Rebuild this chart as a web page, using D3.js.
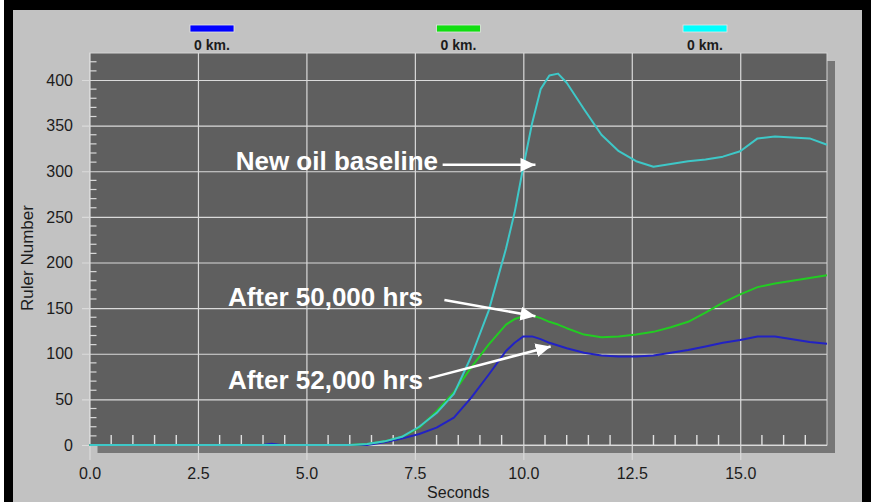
<!DOCTYPE html>
<html lang="en">
<head>
  <meta charset="UTF-8">
  <title>Ruler Number vs Seconds</title>
  <script src="https://d3js.org/d3.v7.min.js"></script>
  <style>
    body {
      margin: 0;
      background: #ffffff;
    }
    svg text {
      font-family: Arial, "Liberation Sans", sans-serif;
    }
  </style>
</head>
<body>
  <div id="chart"></div>

  <script>
    // values
    const seconds = [0, 2, 4, 4.2, 4.4, 6, 6.4, 6.8, 7.2, 7.6, 8.0, 8.4, 8.8, 9.2, 9.6, 9.8,
      10.0, 10.2, 10.4, 10.6, 10.8, 11.0, 11.4, 11.8, 12.2, 12.6, 13.0, 13.4, 13.8,
      14.2, 14.6, 15.0, 15.4, 15.8, 16.2, 16.6, 17.0];
    const after52000 = [0, 0, 0, 1.5, 0, 0, 0, 3, 7, 12, 19, 30, 52, 77, 103, 112,
      119, 119, 116, 112, 109, 106, 101, 98, 97, 97, 98, 101, 104,
      108, 112, 115, 119, 119, 116, 113, 111];
    const after50000 = [0, 0, 0, 0, 0, 0, 1, 4, 9, 19, 37, 58, 85, 110, 132, 138,
      141, 142, 139, 135, 132, 128, 121, 118, 119, 121, 124, 129, 135,
      145, 156, 165, 173, 177, 180, 183, 186];
    const newOil = [0, 0, 0, 0, 0, 0, 1, 4, 9, 20, 35, 56, 97, 147, 215, 255,
      305, 352, 390, 405, 407, 397, 368, 340, 322, 311, 305, 308, 311,
      313, 316, 322, 336, 338, 337, 336, 329];

    const legendLabels = ["0 km.", "0 km.", "0 km."];
    const legendColors = ["#0000ff", "#11dd11", "#00ffff"];
    const lineColors = ["#2222c4", "#22cc22", "#3ec8c8"];

    const xTicks = [0, 2.5, 5, 7.5, 10, 12.5, 15];
    const yTicks = [0, 50, 100, 150, 200, 250, 300, 350, 400];

    const annoText = ["New oil baseline", "After 50,000 hrs", "After 52,000 hrs"];
    const annoPos = [[3.37, 301], [3.19, 152], [3.19, 61]];
    const arrowFrom = [[8.14, 307], [8.18, 159], [7.82, 73]];
    const arrowTo = [[10.28, 307], [10.28, 141], [10.63, 108]];

    const W = 871, H = 502;
    const plot = { left: 89.5, right: 827, top: 53, bottom: 445 };

    const svg = d3.select("#chart").append("svg")
      .attr("width", W)
      .attr("height", H);

    // frame
    svg.append("rect").attr("x", 4).attr("y", 0).attr("width", W - 4).attr("height", H).attr("fill", "#000");
    svg.append("rect").attr("x", 13).attr("y", 10).attr("width", 849).attr("height", H - 10).attr("fill", "#c2c2c2");

    const x = d3.scaleLinear().domain([0, 17]).range([plot.left, plot.right]);
    const y = d3.scaleLinear().domain([0, 429.6]).range([plot.bottom, plot.top]);

    // shadow + plot area
    svg.append("rect")
      .attr("x", plot.left + 8).attr("y", plot.top + 8)
      .attr("width", plot.right - plot.left).attr("height", plot.bottom - plot.top)
      .attr("fill", "#767676");
    svg.append("rect")
      .attr("x", plot.left).attr("y", plot.top)
      .attr("width", plot.right - plot.left).attr("height", plot.bottom - plot.top)
      .attr("fill", "#5f5f5f")
      .attr("stroke", "#d4d4d4")
      .attr("stroke-width", 1);

    // axes with grid lines
    const yAxis = svg.append("g")
      .attr("transform", `translate(${plot.right},0)`)
      .call(d3.axisLeft(y).tickValues(yTicks).tickSize(plot.right - 82).tickPadding(9).tickFormat(d3.format("d")));
    const xAxis = svg.append("g")
      .attr("transform", `translate(0,${plot.top})`)
      .call(d3.axisBottom(x).tickValues(xTicks).tickSize(460 - plot.top).tickPadding(8).tickFormat(d3.format(".1f")));

    [yAxis, xAxis].forEach(a => {
      a.select(".domain").remove();
      a.selectAll("line").attr("stroke", "#dadada").attr("stroke-width", 1.2);
      a.selectAll("text").attr("fill", "#1c1c1c").style("font-size", "16px");
    });

    // minor ticks
    const yMinor = d3.range(10, 429, 10).filter(v => v % 50 !== 0);
    svg.append("g").selectAll("line")
      .data(yMinor)
      .join("line")
      .attr("x1", plot.left).attr("x2", plot.left + 7)
      .attr("y1", d => y(d)).attr("y2", d => y(d))
      .attr("stroke", "#d8d8d8").attr("stroke-width", 1.2);

    const xMinor = d3.range(0.5, 17, 0.5).filter(v => v % 2.5 !== 0);
    svg.append("g").selectAll("line")
      .data(xMinor)
      .join("line")
      .attr("x1", d => x(d)).attr("x2", d => x(d))
      .attr("y1", plot.bottom).attr("y2", plot.bottom - 10)
      .attr("stroke", "#e0e0e0").attr("stroke-width", 1.4);

    // series lines
    const series = [after52000, after50000, newOil];
    const line = d3.line()
      .x((d, i) => x(seconds[i]))
      .y(d => y(d));

    svg.append("g").selectAll("path")
      .data(series)
      .join("path")
      .attr("d", d => line(d))
      .attr("fill", "none")
      .attr("stroke", (d, i) => lineColors[i])
      .attr("stroke-width", 2)
      .attr("stroke-linejoin", "round");

    // axis titles
    svg.append("text")
      .attr("x", (plot.left + plot.right) / 2)
      .attr("y", 498)
      .attr("text-anchor", "middle")
      .attr("fill", "#1c1c1c")
      .style("font-size", "16px")
      .text("Seconds");

    svg.append("text")
      .attr("transform", "translate(33,258) rotate(-90)")
      .attr("text-anchor", "middle")
      .attr("fill", "#1c1c1c")
      .style("font-size", "17px")
      .text("Ruler Number");

    // legend
    const lx = d3.scalePoint().domain(d3.range(legendLabels.length)).range([212, 705]);
    const legend = svg.append("g").selectAll("g")
      .data(legendLabels)
      .join("g")
      .attr("transform", (d, i) => `translate(${lx(i)},0)`);
    legend.append("rect")
      .attr("x", -22).attr("y", 25)
      .attr("width", 44).attr("height", 7)
      .attr("fill", (d, i) => legendColors[i])
      .attr("stroke", "#e6e6e6").attr("stroke-width", 0.8);
    legend.append("text")
      .attr("y", 50)
      .attr("text-anchor", "middle")
      .attr("fill", "#1c1c1c")
      .style("font-size", "14px")
      .style("font-weight", "bold")
      .text(d => d);

    // annotations
    svg.append("defs").append("marker")
      .attr("id", "arrow")
      .attr("viewBox", "0 0 15 14")
      .attr("refX", 15).attr("refY", 7)
      .attr("markerUnits", "userSpaceOnUse")
      .attr("markerWidth", 15).attr("markerHeight", 14)
      .attr("orient", "auto")
      .append("path")
      .attr("d", "M0,0 L15,7 L0,14 Z")
      .attr("fill", "#fff");

    svg.append("g").selectAll("line")
      .data(annoText)
      .join("line")
      .attr("x1", (d, i) => x(arrowFrom[i][0])).attr("y1", (d, i) => y(arrowFrom[i][1]))
      .attr("x2", (d, i) => x(arrowTo[i][0])).attr("y2", (d, i) => y(arrowTo[i][1]))
      .attr("stroke", "#fff")
      .attr("stroke-width", 2.5)
      .attr("marker-end", "url(#arrow)");

    svg.append("g").selectAll("text")
      .data(annoText)
      .join("text")
      .attr("x", (d, i) => x(annoPos[i][0]))
      .attr("y", (d, i) => y(annoPos[i][1]))
      .attr("fill", "#fff")
      .style("font-size", "26px")
      .style("font-weight", "bold")
      .text(d => d);
  </script>
</body>
</html>
